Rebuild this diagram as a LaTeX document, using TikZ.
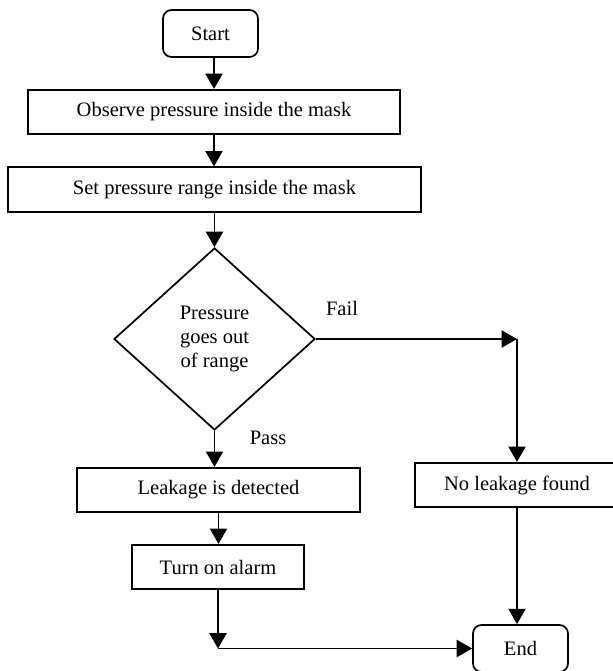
\documentclass[tikz,border=0pt]{standalone}
\usepackage{fontspec}
\setmainfont{Liberation Serif}
\usepackage{tikz}
\usetikzlibrary{positioning}
\usetikzlibrary{shapes,calc,arrows.meta}
\tikzset{
	x=0.585pt, y=-0.585pt,
	font=\fontsize{12}{13.8}\selectfont,
	flow/.style = {-{Triangle[length=9pt,width=10pt]}, line width=1.1pt},
	box/.style = {rectangle, draw, line width=1pt, minimum height=26pt, inner sep=2pt},
	term/.style = {rectangle, rounded corners=5pt, draw, line width=1pt,
		minimum width=55.6pt, minimum height=27.5pt},
	dec/.style = {diamond, draw, line width=1pt, align=center, inner sep=0pt,
		minimum width=117.6pt, minimum height=106.5pt},
	el/.style = {inner sep=0pt},
}

\begin{document}
\begin{tikzpicture}
	\useasboundingbox (0,0) rectangle (612,671);
	\node (start) [term] at (210.5,33.5) {Start};
	\node (obs) [box, minimum width=217.6pt] at (214,112) {Observe pressure inside the mask};
	\node (set) [box, minimum width=241.6pt] at (214.5,189.5) {Set pressure range inside the mask};
	\node (test) [dec] at (214.5,339) {Pressure\\goes out\\of range};
	\node (leak) [box, minimum width=165.6pt] at (218.5,490) {Leakage is detected};
	\node (alarm) [box, minimum width=100.6pt] at (218,567) {Turn on alarm};
	\node (noleak) [box, minimum width=119.3pt] at (517,485) {No leakage found};
	\node (end) [term] at (520.5,648.5) {End};
	\node (fail) [el] at (342,308) {Fail};
	\node (pass) [el] at (268,438) {Pass};
	\coordinate (c1) at (noleak.north |- test.east);
	\coordinate (c2) at (alarm.south |- end.west);
	\draw[flow] (start.south -| obs.north) -- (obs.north);
	\draw[flow] (obs.south) -- (obs.south |- set.north);
	\draw[flow] (set.south -| test.north) -- (test.north);
	\draw[flow] (test.south) -- (test.south |- leak.north);
	\draw[flow] (leak.south) -- (leak.south |- alarm.north);
	% fail branch
	\draw[flow] (test.east) -- (c1);
	\draw[flow] (c1) -- (noleak.north);
	\draw[flow] (noleak.south) -- (noleak.south |- end.north);
	\draw[flow] (alarm.south) -- (c2);
	\draw[flow] (c2) -- (end.west);
\end{tikzpicture}
\end{document}
